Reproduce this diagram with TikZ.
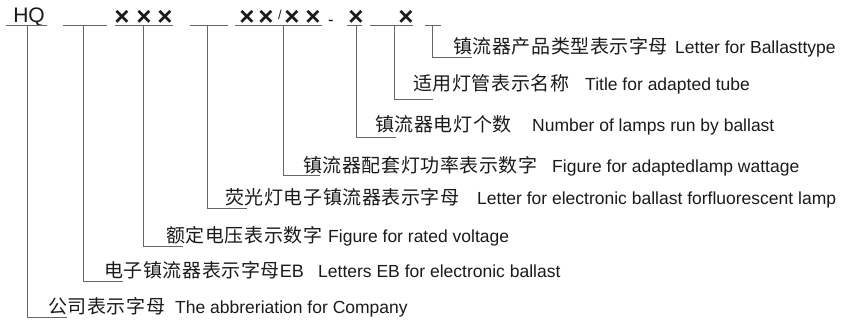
\documentclass[tikz,border=0pt]{standalone}
\usepackage{fontspec}
\setmainfont{Liberation Sans}
\newfontfamily\cjk[LetterSpace=3]{Noto Sans CJK SC}
\newfontfamily\en{Liberation Sans}
\definecolor{lineg}{HTML}{666666}
\definecolor{txt}{HTML}{1A1A1A}
\begin{document}
\begin{tikzpicture}[x=1pt,y=-1pt,
  ln/.style={draw=lineg, line width=0.9pt},
  zh/.style={anchor=base west, inner sep=0pt, font=\cjk\fontsize{19}{22}\selectfont, text=txt},
  entext/.style={anchor=base west, inner sep=0pt, font=\en\fontsize{17.5}{20}\selectfont, text=txt},
  cross/.style={inner sep=0pt, font=\en\bfseries\fontsize{26}{28}\selectfont, text=txt}]
\useasboundingbox (0,0) rectangle (846,321);
% code line
\node[anchor=base, inner sep=0pt, font=\en\fontsize{21}{24}\selectfont, text=txt] (hq) at (29,23) {HQ};
\node[cross] (x1) at (122,17.5) {×};
\node[cross] (x2) at (144,17.5) {×};
\node[cross] (x3) at (165,17.5) {×};
\node[cross] (x4) at (247,17.5) {×};
\node[cross] (x5) at (266,17.5) {×};
\node[inner sep=0pt, font=\en\fontsize{13}{14}\selectfont, text=txt] (sl) at (280,15) {/};
\node[cross] (x6) at (292,17.5) {×};
\node[cross] (x7) at (313,17.5) {×};
\node[inner sep=0pt, font=\en\fontsize{17}{20}\selectfont, text=txt] (dash) at (331,22.5) {-};
\node[cross] (x8) at (356,17.5) {×};
\node[cross] (x9) at (406,17.5) {×};
% underlines
\foreach \a/\b in {6/47,63/107,115/173,190/228,235/322,347/362,370/413,425/441}
  \draw[ln] (\a,25) -- (\b,25);
% bracket ends
\coordinate (t1) at (432,25); \coordinate (b1) at (472,57);
\coordinate (t2) at (394,25); \coordinate (b2) at (433,99);
\coordinate (t3) at (356,25); \coordinate (b3) at (396,137);
\coordinate (t4) at (283,25); \coordinate (b4) at (320,175);
\coordinate (t5) at (207,25); \coordinate (b5) at (247,208);
\coordinate (t6) at (143,25); \coordinate (b6) at (183,246);
\coordinate (t7) at (83,25);  \coordinate (b7) at (123,281);
\coordinate (t8) at (27,25);  \coordinate (b8) at (67,317);
\foreach \i in {1,...,8} \draw[ln] (t\i) |- (b\i);
% labels
\node[zh] (z1) at (453,53.5) {镇流器产品类型表示字母};
\node[entext] (e1) at (675,53.5) {Letter for Ballasttype};
\node[zh] (z2) at (413,91) {适用灯管表示名称};
\node[entext] (e2) at (585,91) {Title for adapted tube};
\node[zh] (z3) at (375,131) {镇流器电灯个数};
\node[entext] (e3) at (532,131) {Number of lamps run by ballast};
\node[zh] (z4) at (303,172) {镇流器配套灯功率表示数字};
\node[entext] (e4) at (552,172) {Figure for adaptedlamp wattage};
\node[zh] (z5) at (225,204) {荧光灯电子镇流器表示字母};
\node[entext] (e5) at (477,204) {Letter for electronic ballast forfluorescent lamp};
\node[zh] (z6) at (166,242.5) {额定电压表示数字};
\node[entext] (e6) at (328,242.5) {Figure for rated voltage};
\node[zh] (z7) at (104,277) {电子镇流器表示字母{\en\fontsize{18}{20}\selectfont EB}};
\node[entext] (e7) at (318,277) {Letters EB for electronic ballast};
\node[zh] (z8) at (48,313) {公司表示字母};
\node[entext] (e8) at (175,313) {The abbreriation for Company};
\end{tikzpicture}
\end{document}
